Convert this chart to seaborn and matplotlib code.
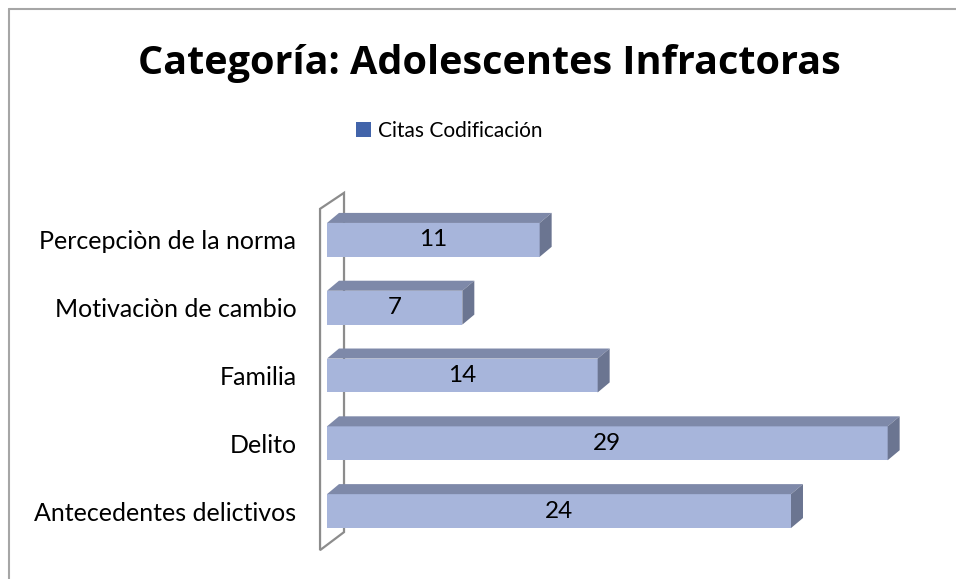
import matplotlib
matplotlib.use("Agg")
import matplotlib.pyplot as plt
import pandas as pd
import seaborn as sns
from matplotlib.patches import Polygon
from matplotlib.lines import Line2D

# datos del grafico
categorias = ["Percepciòn de la norma", "Motivaciòn de cambio", "Familia",
              "Delito", "Antecedentes delictivos"]
citas = [11, 7, 14, 29, 24]
serie = "Citas Codificación"
titulo = "Categoría: Adolescentes Infractoras"

# colores estilo Excel 3D
frente = "#A7B5DB"
arriba = "#7E89A9"
lado = "#6B7591"
leyenda_color = "#4264AA"

df = pd.DataFrame({"Categoria": categorias, "Citas": citas})

sns.set_theme(style="white")
plt.rcParams["font.family"] = ["Lato", "DejaVu Sans"]

W, H = 956, 579
fig = plt.figure(figsize=(W / 100, H / 100), dpi=100)
ax = fig.add_axes([327 / W, 1 - 545 / H, 580 / W, 339 / H])

sns.barplot(data=df, x="Citas", y="Categoria", orient="h", width=0.5,
            color=frente, saturation=1, label=serie, edgecolor="none",
            ax=ax, zorder=3)
ax.set_xlim(0, 30)
ax.set_ylim(4.5, -0.5)

# profundidad 3D en unidades de datos
dx, dy = 0.62, 0.148
for p in ax.patches:
    x0, y0, w, h = p.get_x(), p.get_y(), p.get_width(), p.get_height()
    top = Polygon([(x0, y0), (x0 + w, y0), (x0 + w + dx, y0 - dy), (x0 + dx, y0 - dy)],
                  closed=True, facecolor=arriba, edgecolor="none", zorder=3)
    side = Polygon([(x0 + w, y0), (x0 + w + dx, y0 - dy), (x0 + w + dx, y0 + h - dy),
                    (x0 + w, y0 + h)], closed=True, facecolor=lado, edgecolor="none", zorder=3)
    ax.add_patch(top)
    ax.add_patch(side)

ax.bar_label(ax.containers[0], label_type="center", fontsize=17.5, color="black")

# pared lateral
pared = Polygon([(-0.36, -0.458), (0.88, -0.694), (0.88, 4.31), (-0.36, 4.576)],
                closed=True, fill=False, edgecolor="#8C8C8C", lw=1.6,
                clip_on=False, zorder=1)
ax.add_patch(pared)

for s in ax.spines.values():
    s.set_visible(False)
ax.set_xticks([])
ax.set_xlabel("")
ax.set_ylabel("")
ax.tick_params(axis="y", length=0, pad=22, labelsize=18, labelcolor="black")

leg = ax.legend(loc="center left", bbox_to_anchor=(356 / W, 1 - 131 / H),
                bbox_transform=fig.transFigure, frameon=False, fontsize=15,
                handlelength=0.72, handleheight=0.72, handletextpad=0.35,
                borderaxespad=0, borderpad=0)
for hnd in leg.legend_handles:
    hnd.set_facecolor(leyenda_color)
for t in leg.get_texts():
    t.set_color("black")

fig.text(489 / W, 1 - 74 / H, titulo, ha="center", va="baseline",
         fontsize=28.5, fontweight="bold", color="black",
         family=["Open Sans", "DejaVu Sans"])

# marco del area del grafico
fig.add_artist(Line2D([9 / W, 1], [1 - 9 / H, 1 - 9 / H], color="#A6A6A6", lw=1.5))
fig.add_artist(Line2D([9 / W, 9 / W], [0, 1 - 9 / H], color="#A6A6A6", lw=1.5))

fig.savefig("out.png", dpi=100)
